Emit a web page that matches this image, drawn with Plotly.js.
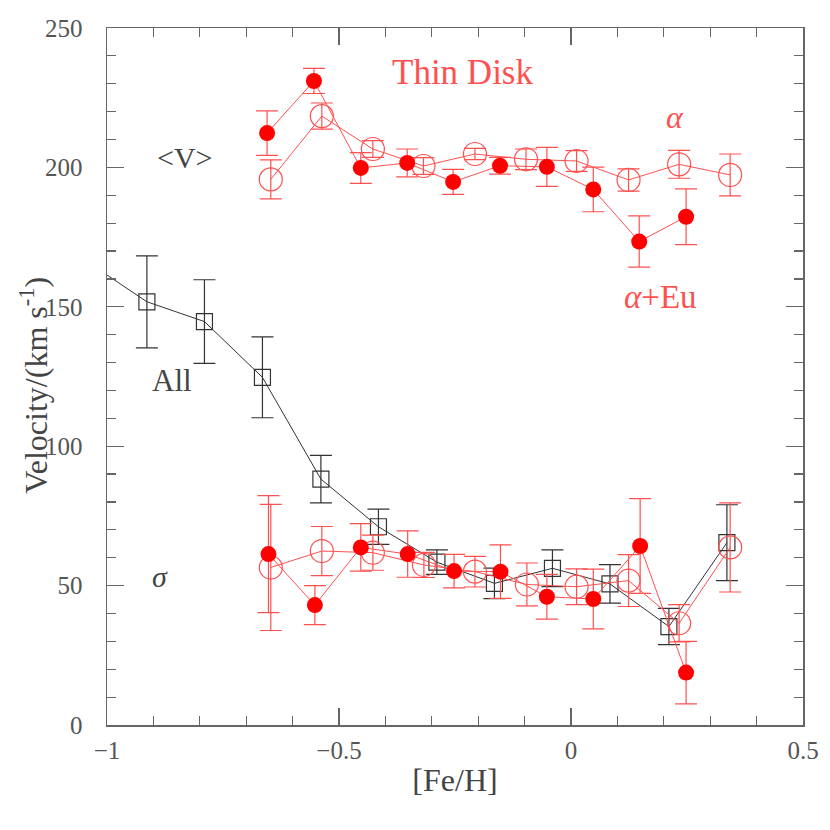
<!DOCTYPE html>
<html>
<head>
<meta charset="utf-8">
<script src="https://cdn.plot.ly/plotly-3.0.1.min.js"></script>
<style>body{margin:0;background:#fff}</style>
</head>
<body>
<div id="chart" style="width:830px;height:830px"></div>
<script>
// <V> for the thin disk, alpha+Eu sample (filled circles)
const vEuX = [-0.655, -0.554, -0.453, -0.353, -0.254, -0.153, -0.052, 0.048, 0.147, 0.248];
const vEuY = [212.3, 231.0, 199.8, 201.6, 194.8, 200.6, 200.2, 192.1, 173.4, 182.3];
const vEuErr = [8.0, 4.5, 5.5, 5.0, 4.5, 3.0, 7.0, 8.0, 9.2, 10.0];

// <V> for the thin disk, alpha sample (open circles)
const vAlX = [-0.647, -0.537, -0.427, -0.318, -0.207, -0.097, 0.012, 0.124, 0.233, 0.343];
const vAlY = [195.7, 218.4, 206.6, 200.5, 204.8, 202.9, 202.3, 195.5, 201.1, 197.3];
const vAlErr = [7.0, 4.7, 3.0, 3.0, 2.0, 3.7, 3.7, 4.0, 5.0, 7.5];

// sigma, all stars (open squares); first point lies just off the left edge
const allX = [-1.05, -0.914, -0.790, -0.665, -0.539, -0.415, -0.289, -0.165, -0.040, 0.084, 0.211, 0.336];
const allY = [167.0, 151.8, 144.7, 124.7, 88.2, 71.1, 58.4, 50.8, 56.2, 50.6, 35.3, 65.4];
const allErr = [16.0, 16.5, 15.0, 14.5, 8.5, 6.3, 4.4, 5.5, 6.6, 6.9, 6.5, 13.6];

// sigma, alpha+Eu (filled circles)
const sEuX = [-0.652, -0.552, -0.453, -0.352, -0.252, -0.152, -0.052, 0.048, 0.149, 0.248];
const sEuY = [61.3, 43.0, 63.7, 61.3, 55.2, 55.0, 46.0, 45.2, 64.2, 18.8];
const sEuErr = [21.0, 7.0, 8.5, 8.3, 6.0, 9.6, 8.0, 10.7, 17.0, 11.2];

// sigma, alpha (open circles)
const sAlX = [-0.647, -0.537, -0.427, -0.317, -0.207, -0.095, 0.012, 0.124, 0.233, 0.343];
const sAlY = [56.5, 62.4, 61.8, 57.4, 55.0, 50.4, 49.6, 51.8, 36.5, 63.7];
const sAlErr = [22.6, 8.8, 6.3, 4.5, 5.5, 7.7, 6.4, 9.3, 6.7, 16.0];

const RED = '#ff0000';
const LRED = '#ff5050';
const BLK = '#333333';
const FONT = 'Liberation Serif, DejaVu Serif, serif';

function errs(arr, color) {
  return {type: 'data', array: arr, visible: true, color: color, thickness: 1.2, width: 11};
}

const traces = [
  {x: allX, y: allY, type: 'scatter', mode: 'lines+markers', name: 'All',
   line: {color: BLK, width: 1},
   marker: {symbol: 'square-open', size: 16, color: BLK, line: {width: 1.2}},
   error_y: errs(allErr, BLK)},
  {x: vAlX, y: vAlY, type: 'scatter', mode: 'lines+markers', name: 'alpha <V>',
   line: {color: LRED, width: 1},
   marker: {symbol: 'circle-open', size: 23, color: LRED, line: {width: 1.2}},
   error_y: errs(vAlErr, LRED)},
  {x: sAlX, y: sAlY, type: 'scatter', mode: 'lines+markers', name: 'alpha sigma',
   line: {color: LRED, width: 1},
   marker: {symbol: 'circle-open', size: 23, color: LRED, line: {width: 1.2}},
   error_y: errs(sAlErr, LRED)},
  {x: vEuX, y: vEuY, type: 'scatter', mode: 'lines+markers', name: 'alpha+Eu <V>',
   line: {color: LRED, width: 1},
   marker: {symbol: 'circle', size: 16, color: RED},
   error_y: errs(vEuErr, LRED)},
  {x: sEuX, y: sEuY, type: 'scatter', mode: 'lines+markers', name: 'alpha+Eu sigma',
   line: {color: LRED, width: 1},
   marker: {symbol: 'circle', size: 16, color: RED},
   error_y: errs(sEuErr, LRED)}
];

function note(x, y, text, color, size) {
  return {x: x, y: y, xref: 'x', yref: 'y', text: text, showarrow: false,
          font: {family: FONT, size: size, color: color}};
}

const axisCommon = {
  showgrid: false, zeroline: false,
  showline: true, linecolor: '#666', linewidth: 1.5, mirror: 'ticks',
  ticks: 'inside', ticklen: 17, tickwidth: 1.2, tickcolor: '#666',
  tickfont: {family: FONT, size: 25, color: '#555'}
};

const layout = {
  width: 830, height: 830,
  margin: {l: 107, r: 27, t: 28, b: 105},
  paper_bgcolor: '#ffffff', plot_bgcolor: '#ffffff',
  showlegend: false,
  font: {family: FONT, color: '#444'},
  xaxis: Object.assign({}, axisCommon, {
    range: [-1, 0.5], dtick: 0.5, tick0: 0, ticklabelstandoff: 2,
    minor: {dtick: 0.1, ticks: 'inside', ticklen: 9, tickcolor: '#666', tickwidth: 1.2},
    title: {text: '[Fe/H]', font: {family: FONT, size: 32, color: '#444'}, standoff: 6}
  }),
  yaxis: Object.assign({}, axisCommon, {
    range: [0, 250], dtick: 50, ticklabelstandoff: 18,
    minor: {dtick: 10, ticks: 'inside', ticklen: 9, tickcolor: '#666', tickwidth: 1.2}
  }),
  annotations: [
    {x: -0.105, y: 0.488, xref: 'paper', yref: 'paper', xanchor: 'center', yanchor: 'middle',
     textangle: -90, showarrow: false,
     text: 'Velocity/(km s<sup>-1</sup>)', font: {family: FONT, size: 32, color: '#444'}},
    note(-0.233, 233.9, 'Thin Disk', LRED, 35),
    note(0.224, 218, '<i>α</i>', LRED, 32),
    note(0.192, 153.5, '<i>α</i>+Eu', LRED, 33),
    note(-0.832, 203.4, '&lt;V&gt;', '#444', 30),
    note(-0.86, 123.4, 'All', '#444', 31),
    note(-0.886, 53.1, '<i>σ</i>', '#444', 30)
  ]
};

Plotly.newPlot('chart', traces, layout, {displayModeBar: false, staticPlot: true});
</script>
</body>
</html>
